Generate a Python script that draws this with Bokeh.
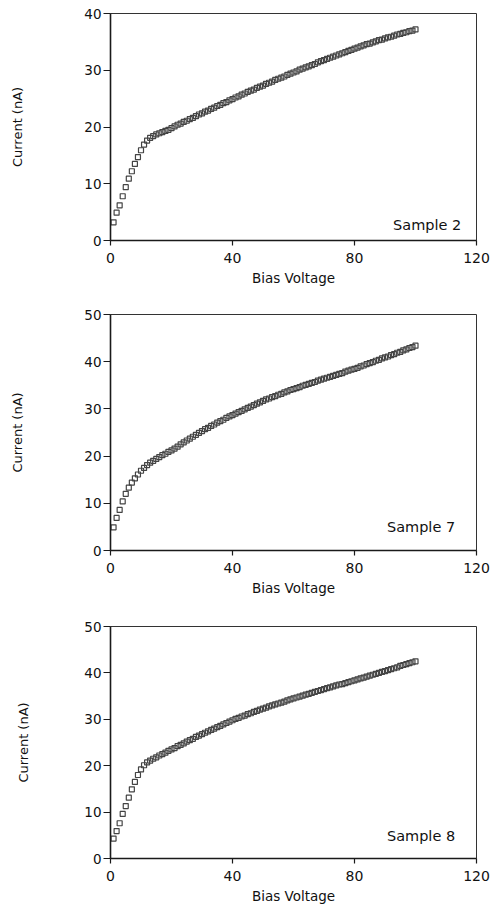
from bokeh.plotting import figure
from bokeh.layouts import column
from bokeh.models import FixedTicker, Label, ColumnDataSource
from bokeh.embed import file_html
from bokeh.resources import INLINE

# ---------------- data ----------------
bias_voltage = list(range(1, 101))

sample2_current = [
    3.2, 4.9, 6.2, 7.8, 9.4, 10.9, 12.2, 13.5, 14.7, 15.9,
    16.9, 17.6, 18.1, 18.4, 18.7, 18.9, 19.1, 19.3, 19.5, 19.8,
    20.1, 20.4, 20.6, 20.9, 21.1, 21.4, 21.6, 21.9, 22.2, 22.4,
    22.7, 22.9, 23.2, 23.4, 23.7, 23.9, 24.2, 24.4, 24.7, 24.9,
    25.2, 25.4, 25.7, 25.9, 26.2, 26.4, 26.6, 26.9, 27.1, 27.3,
    27.6, 27.8, 28.0, 28.3, 28.5, 28.7, 28.9, 29.2, 29.4, 29.6,
    29.8, 30.1, 30.3, 30.5, 30.7, 30.9, 31.1, 31.4, 31.6, 31.8,
    32.0, 32.2, 32.4, 32.6, 32.8, 33.0, 33.2, 33.4, 33.6, 33.8,
    34.0, 34.2, 34.4, 34.6, 34.7, 34.9, 35.1, 35.3, 35.4, 35.6,
    35.8, 35.9, 36.1, 36.3, 36.4, 36.6, 36.7, 36.9, 37.0, 37.2,
]

sample7_current = [
    4.9, 6.9, 8.6, 10.4, 12.0, 13.3, 14.4, 15.3, 16.1, 16.9,
    17.5, 18.1, 18.6, 19.0, 19.4, 19.8, 20.2, 20.5, 20.9, 21.2,
    21.6, 22.0, 22.5, 22.9, 23.3, 23.7, 24.1, 24.5, 24.9, 25.3,
    25.7, 26.0, 26.4, 26.7, 27.1, 27.4, 27.7, 28.1, 28.4, 28.7,
    29.0, 29.3, 29.6, 29.9, 30.2, 30.5, 30.8, 31.1, 31.4, 31.7,
    32.0, 32.2, 32.5, 32.7, 33.0, 33.2, 33.5, 33.7, 34.0, 34.2,
    34.4, 34.6, 34.9, 35.1, 35.3, 35.5, 35.7, 36.0, 36.2, 36.4,
    36.6, 36.8, 37.0, 37.2, 37.4, 37.6, 37.9, 38.1, 38.3, 38.5,
    38.7, 39.0, 39.2, 39.5, 39.7, 39.9, 40.2, 40.4, 40.7, 40.9,
    41.1, 41.4, 41.6, 41.9, 42.1, 42.4, 42.6, 42.9, 43.1, 43.4,
]

sample8_current = [
    4.3, 5.9, 7.6, 9.6, 11.3, 13.1, 14.9, 16.5, 18.0, 19.2,
    20.1, 20.7, 21.1, 21.5, 21.8, 22.2, 22.5, 22.8, 23.2, 23.5,
    23.8, 24.2, 24.5, 24.8, 25.2, 25.5, 25.8, 26.2, 26.5, 26.8,
    27.1, 27.4, 27.7, 28.0, 28.3, 28.6, 28.9, 29.2, 29.5, 29.8,
    30.1, 30.3, 30.6, 30.8, 31.1, 31.3, 31.6, 31.8, 32.1, 32.3,
    32.5, 32.8, 33.0, 33.2, 33.4, 33.6, 33.8, 34.1, 34.3, 34.5,
    34.7, 34.9, 35.1, 35.3, 35.5, 35.7, 35.9, 36.1, 36.3, 36.5,
    36.7, 36.9, 37.1, 37.3, 37.5, 37.6, 37.8, 38.0, 38.2, 38.4,
    38.6, 38.8, 39.0, 39.2, 39.4, 39.6, 39.8, 40.0, 40.2, 40.4,
    40.6, 40.8, 41.0, 41.2, 41.5, 41.7, 41.9, 42.1, 42.3, 42.5,
]

sample_names = ["Sample 2", "Sample 7", "Sample 8"]
x_ticks = [0, 40, 80, 120]
y_ticks_s2 = [0, 10, 20, 30, 40]
y_ticks_s7 = [0, 10, 20, 30, 40, 50]
y_ticks_s8 = [0, 10, 20, 30, 40, 50]
y_max = [40, 50, 50]
x_max = 120

FONT = "DejaVu Sans"


def make_panel(current, name, yticks, ymax, height, bl, br, bt, bb, lab_x, lab_y, ylab_standoff):
    p = figure(width=500, height=height, x_range=(0, x_max), y_range=(0, ymax),
               output_backend="svg", toolbar_location=None,
               min_border_left=bl, min_border_right=br,
               min_border_top=bt, min_border_bottom=bb,
               background_fill_color="white", border_fill_color="white")
    p.grid.visible = False
    p.outline_line_color = "#333333"
    p.outline_line_width = 1

    src = ColumnDataSource(dict(v=bias_voltage, i=current))
    p.scatter("v", "i", source=src, marker="square", size=5,
              fill_alpha=0, line_color="#444444", line_width=1.2)

    p.xaxis.ticker = FixedTicker(ticks=x_ticks)
    p.yaxis.ticker = FixedTicker(ticks=yticks)
    for ax in (p.xaxis, p.yaxis):
        ax.axis_line_color = "#1a1a1a"
        ax.axis_line_width = 1.6
        ax.major_tick_line_color = "#1a1a1a"
        ax.major_tick_line_width = 1.2
        ax.minor_tick_line_color = None
        ax.major_tick_in = 0
        ax.major_label_text_font = FONT
        ax.major_label_text_color = "#111111"
        ax.axis_label_text_font = FONT
        ax.axis_label_text_font_style = "normal"
        ax.axis_label_text_color = "#111111"

    p.xaxis.major_tick_out = 5
    p.xaxis.major_label_standoff = 7
    p.xaxis.major_label_text_font_size = "14px"
    p.xaxis.axis_label = "Bias Voltage"
    p.xaxis.axis_label_text_font_size = "13.5px"
    p.xaxis.axis_label_standoff = 4

    p.yaxis.major_tick_out = 7
    p.yaxis.major_label_standoff = 2
    p.yaxis.major_label_text_font_size = "13.5px"
    p.yaxis.axis_label = "Current (nA)"
    p.yaxis.axis_label_text_font_size = "13px"
    p.yaxis.axis_label_standoff = ylab_standoff

    p.add_layout(Label(x=lab_x, y=lab_y, text=name, text_align="right",
                       text_baseline="alphabetic", text_font=FONT,
                       text_font_size="14.5px", text_color="#111111"))
    return p


p1 = make_panel(sample2_current, sample_names[0], y_ticks_s2, y_max[0],
                300, 110, 21, 13, 60, 115, 2.7, 56)
p2 = make_panel(sample7_current, sample_names[1], y_ticks_s7, y_max[1],
                312, 110, 20, 14, 62, 113, 4.9, 56)
p3 = make_panel(sample8_current, sample_names[2], y_ticks_s8, y_max[2],
                295, 104, 24, 14, 49, 113, 4.8, 50)

layout = column(p1, p2, p3, spacing=0)

open("out.html", "w").write(file_html(layout, INLINE))
